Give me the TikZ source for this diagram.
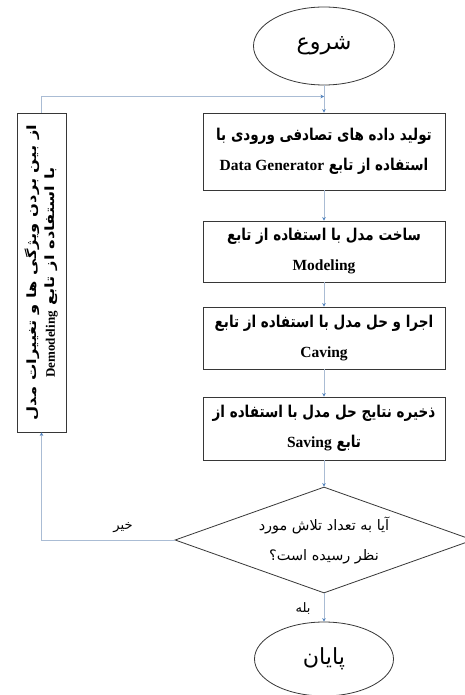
\documentclass[tikz,border=0pt]{standalone}
\usepackage{fontspec}
\setmainfont{Liberation Serif}
\newfontfamily\arabicfont[Script=Arabic,Scale=0.87]{DejaVu Sans}
\newfontfamily\arabicbox[Script=Arabic,Scale=1.05,FakeStretch=0.83]{DejaVu Sans}
\newfontfamily\arabicside[Script=Arabic,Scale=0.85,FakeStretch=1.28]{DejaVu Sans}
\TeXXeTstate=1
\usetikzlibrary{shapes.geometric,arrows.meta}
\definecolor{linec}{RGB}{170,188,212}
\definecolor{tipc}{RGB}{79,129,189}
\definecolor{edgec}{RGB}{55,55,55}
\newcommand{\fa}[1]{{\arabicfont\beginR #1\endR}}
\newcommand{\fb}[1]{{\arabicbox\beginR #1\endR}}
\newcommand{\fsd}[1]{{\arabicside\beginR #1\endR}}
\newcommand{\la}[1]{{\rmfamily\beginL #1\endL}}
\begin{document}
\begin{tikzpicture}[x=1pt,y=-1pt,
  procbox/.style={draw=edgec, line width=0.9pt, rectangle, minimum width=242pt, inner sep=0pt, align=center, font=\bfseries\fontsize{15.5}{30}\selectfont},
  sidebox/.style={draw=edgec, line width=0.9pt, rectangle, rotate=90, minimum width=319pt, minimum height=49pt, inner sep=0pt, align=center, font=\bfseries\fontsize{15}{18.5}\selectfont},
  termnode/.style={draw=edgec, line width=0.8pt, ellipse, inner sep=0pt, font=\fontsize{25.5}{28}\selectfont},
  decnode/.style={draw=edgec, line width=0.8pt, diamond, inner sep=0pt, minimum width=298pt, minimum height=106pt},
  txt/.style={inner sep=0pt, align=center, font=\fontsize{16.6}{30}\selectfont},
  smalllbl/.style={inner sep=0pt, font=\fontsize{15}{16}\selectfont},
  conn/.style={draw=linec, line width=0.8pt, -{Stealth[length=3.5pt,width=3.5pt,color=tipc]}}
]
\path[fill=white, use as bounding box] (0,0) rectangle (464,695);

\node[termnode, minimum width=141pt, minimum height=78pt] (start) at (324,46) {\fa{شروع}};

\node[procbox, minimum height=77pt] (b1) at (324,151.5)
  {\fb{تولید داده های تصادفی ورودی با}\\ \fb{استفاده از تابع \la{Data Generator}}};
\node[procbox, minimum height=61pt] (b2) at (324,251.5)
  {\fb{ساخت مدل با استفاده از تابع}\\ \la{Modeling}};
\node[procbox, minimum height=62pt] (b3) at (324,338)
  {\fb{اجرا و حل مدل با استفاده از تابع}\\ \la{Caving}};
\node[procbox, minimum height=63pt] (b4) at (324,428.5)
  {\fb{ذخیره نتایج حل مدل با استفاده از}\\ \fb{تابع \la{Saving}}};

\node[decnode] (dec) at (324,540) {};
\node[txt] (dectext) at (324,540)
  {\fa{آیا به تعداد تلاش مورد}\\ \fa{نظر رسیده است؟}};

\node[termnode, minimum width=139pt, minimum height=74pt] (stop) at (324,659) {\fa{پایان}};

\node[sidebox] (side) at (41.5,272.5)
  {\fsd{از بین بردن ویژگی ها و تغییرات مدل}\\ \fsd{با استفاده از تابع \la{\fontsize{13}{18.5}\selectfont Demodeling}}};

\coordinate (merge) at (324,96.5);

\draw[conn] (start.south) -- (b1.north);
\draw[conn] (side.east) |- (merge);
\draw[conn] (b1.south) -- (b2.north);
\draw[conn] (b2.south) -- (b3.north);
\draw[conn] (b3.south) -- (b4.north);
\draw[conn] (b4.south) -- (dec.north);
\draw[conn] (dec.south) -- (stop.north);
\draw[conn] (dec.west) -| (side.west);

\node[smalllbl] (no) at (123,528) {\fa{خیر}};
\node[smalllbl] (yes) at (303,608) {\fa{بله}};
\end{tikzpicture}
\end{document}
